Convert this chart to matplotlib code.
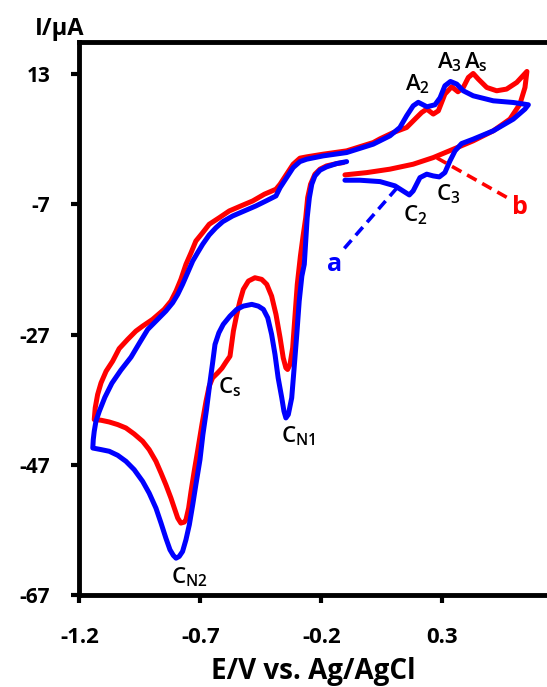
import matplotlib
matplotlib.use("Agg")
import matplotlib.pyplot as plt

plt.rcParams['font.family'] = ['Open Sans', 'DejaVu Sans']
plt.rcParams['mathtext.fontset'] = 'custom'
plt.rcParams['mathtext.rm'] = 'Open Sans:semibold'

# curve a (blue): potential (V) and current (uA)
e_a = [-0.103, -0.041, 0.042, 0.104, 0.163, 0.179, 0.207, 0.235, 0.262, 0.287,
       0.310, 0.331, 0.352, 0.379, 0.427, 0.510, 0.593, 0.641, 0.655, 0.593,
       0.510, 0.427, 0.386, 0.359, 0.333, 0.310, 0.290, 0.269, 0.236, 0.200,
       0.179, 0.152, 0.124, 0.083, 0.014, -0.096, -0.193, -0.261, -0.289, -0.317,
       -0.344, -0.371,
       -0.388, -0.429, -0.471, -0.519, -0.567, -0.608, -0.636, -0.664, -0.691, -0.712,
       -0.732, -0.753, -0.774, -0.794, -0.815, -0.843, -0.877, -0.918, -0.950,
       -0.987, -1.029, -1.066, -1.095, -1.118, -1.132, -1.139, -1.143, -1.145,
       -1.111, -1.077, -1.042, -1.008, -0.974, -0.939, -0.912, -0.884, -0.863, -0.843,
       -0.826, -0.812, -0.801, -0.788, -0.774, -0.760, -0.746, -0.732, -0.719, -0.702,
       -0.690, -0.675, -0.662, -0.650, -0.640, -0.624, -0.606, -0.578, -0.550, -0.523,
       -0.488, -0.461, -0.440, -0.422, -0.406, -0.392, -0.379, -0.364, -0.355, -0.347,
       -0.337, -0.323, -0.314, -0.302, -0.292, -0.281, -0.271, -0.265, -0.259, -0.250,
       -0.240, -0.227, -0.206, -0.179, -0.137, -0.096]
i_a = [-3.28, -3.28, -3.49, -4.15, -5.54, -4.92, -2.88, -2.35, -2.62, -2.77,
       -2.11, -0.31, 1.23, 2.35, 3.03, 4.31, 6.11, 7.65, 8.31, 8.66,
       8.92, 9.69, 10.46, 11.49, 11.89, 11.23, 9.38, 8.31, 8.0, 8.69,
       8.15, 6.62, 4.82, 3.54, 2.26, 0.97, 0.46, -0.05, -0.42, -1.34,
       -2.88, -4.42,
       -5.69, -6.46, -7.23, -8.0, -8.77, -9.65, -10.57, -11.69, -13.12, -14.42,
       -15.69, -17.49, -19.28, -20.82, -22.11, -23.38, -24.66, -26.2, -28.15,
       -30.46, -32.46, -34.46, -36.62, -38.77, -40.31, -41.85, -43.12, -44.42,
       -44.66, -44.92, -45.54, -46.46, -47.74, -49.54, -51.34, -53.65, -55.95, -58.26,
       -60.05, -60.92, -61.34, -61.08, -60.31, -58.51, -56.2, -53.12, -50.05, -46.2,
       -42.35, -38.51, -34.66, -31.38, -28.51, -26.72, -25.43, -24.15, -23.12, -22.62,
       -22.35, -22.62, -23.12, -24.42, -26.97, -30.05, -33.65, -36.72, -38.77, -39.8,
       -39.28, -36.72, -32.62, -26.97, -21.85, -18.0, -16.2, -12.62, -9.03, -5.95,
       -3.89, -2.62, -1.74, -1.23, -0.72, -0.42]

# curve b (red)
e_b = [-0.103, -0.013, 0.083, 0.179, 0.262, 0.345, 0.427, 0.510, 0.579, 0.620,
       0.641, 0.649, 0.607, 0.565, 0.524, 0.483, 0.448, 0.427, 0.407, 0.386,
       0.364, 0.338, 0.310, 0.283, 0.262, 0.235, 0.214, 0.193, 0.152, 0.097,
       0.042, 0.014, -0.096, -0.193, -0.261, -0.289, -0.317, -0.344, -0.371,
       -0.388, -0.436, -0.484, -0.533, -0.581, -0.622, -0.664, -0.691, -0.719, -0.739,
       -0.760, -0.781, -0.801, -0.822, -0.850, -0.898, -0.939, -0.967, -1.001, -1.036,
       -1.063, -1.090, -1.111, -1.125, -1.135, -1.139,
       -1.111, -1.077, -1.042, -1.008, -0.974, -0.939, -0.912, -0.884, -0.863, -0.843,
       -0.822, -0.808, -0.794, -0.781, -0.767, -0.760, -0.749, -0.739, -0.726, -0.712,
       -0.694, -0.677, -0.664, -0.650, -0.629, -0.611, -0.595, -0.578, -0.564, -0.550,
       -0.537, -0.523, -0.502, -0.475, -0.447, -0.426, -0.406, -0.388, -0.371, -0.358,
       -0.347, -0.340, -0.330, -0.319, -0.310, -0.300, -0.287, -0.276, -0.265, -0.257,
       -0.245, -0.227, -0.206, -0.179, -0.137, -0.110]
i_b = [-2.46, -2.11, -1.58, -0.82, 0.20, 1.49, 2.77, 4.31, 6.11, 8.42,
       10.97, 13.43, 11.74, 10.72, 10.46, 10.97, 12.26, 13.12, 12.51, 10.97,
       10.31, 11.08, 9.95, 7.38, 6.88, 7.65, 7.12, 6.35, 4.82, 4.05,
       3.08, 2.51, 1.23, 0.72, 0.31, 0.11, -0.82, -2.35, -3.89,
       -4.66, -5.43, -6.46, -7.23, -8.0, -9.03, -10.05, -11.34, -12.62, -14.42,
       -16.2, -18.51, -20.31, -21.85, -23.12, -24.66, -25.69, -26.46, -27.74, -29.15,
       -31.08, -32.62, -34.42, -36.2, -38.26, -40.05,
       -40.15, -40.42, -40.82, -41.34, -42.26, -43.38, -44.66, -46.46, -48.26, -50.05,
       -52.11, -53.65, -55.18, -55.95, -55.8, -55.43, -53.65, -51.08, -48.0, -44.92,
       -40.82, -37.23, -34.92, -33.65, -32.88, -32.15, -31.23, -30.31, -26.46, -23.89,
       -21.85, -20.05, -18.77, -18.26, -18.51, -19.28, -21.08, -23.89, -27.49, -30.57,
       -32.11, -32.35, -31.58, -29.03, -24.42, -19.28, -14.92, -11.85, -9.03, -5.95,
       -3.89, -2.35, -1.58, -1.08, -0.72, -0.57]

x_ticks = [-1.2, -0.7, -0.2, 0.3]
y_ticks = [-67, -47, -27, -7, 13]

# peak labels: text, E, I
peaks = [
    (r'A$_{\mathregular{2}}$', 0.199, 11.4),
    (r'A$_{\mathregular{3}}$', 0.331, 14.8),
    (r'A$_{\mathregular{s}}$', 0.438, 14.9),
    (r'C$_{\mathregular{2}}$', 0.186, -8.6),
    (r'C$_{\mathregular{3}}$', 0.323, -5.5),
    (r'C$_{\mathregular{s}}$', -0.578, -35.1),
    (r'C$_{\mathregular{N1}}$', -0.297, -42.6),
    (r'C$_{\mathregular{N2}}$', -0.748, -64.2),
]

fig = plt.figure(figsize=(5.47, 6.87), dpi=100)
ax = fig.add_axes([0.1453, 0.1339, 0.8547, 0.8054])

ax.plot(e_b, i_b, color='#ff0000', lw=3.6, solid_joinstyle='round', solid_capstyle='round')
ax.plot(e_a, i_a, color='#0000ff', lw=3.6, solid_joinstyle='round', solid_capstyle='round')

# pointer lines to the curve names
ax.plot([0.112, -0.115], [-4.46, -14.15], color='#0000ff', lw=2.6, dashes=(3, 1.8))
ax.plot([0.277, 0.570], [0.15, -6.0], color='#ff0000', lw=2.6, dashes=(3, 1.8))
ax.text(-0.144, -16.15, 'a', color='#0000ff', fontsize=18, fontweight='bold',
        ha='center', va='center')
ax.text(0.620, -7.54, 'b', color='#ff0000', fontsize=18, fontweight='bold',
        ha='center', va='center')

for txt, e, i in peaks:
    ax.text(e, i, txt, fontsize=16, fontweight='semibold', ha='center', va='center',
            color='black')

ax.set_xlim(-1.2, 0.732)
ax.set_ylim(-67, 18)
ax.set_xticks(x_ticks)
ax.set_yticks(y_ticks)
ax.set_xticklabels([str(t) for t in x_ticks], fontsize=16, fontweight='bold')
ax.set_yticklabels([str(t) for t in y_ticks], fontsize=15, fontweight='bold')
ax.tick_params(axis='both', direction='out', length=6, width=3)
ax.tick_params(axis='x', pad=17)
ax.tick_params(axis='y', pad=15)
for s in ['left', 'bottom', 'top']:
    ax.spines[s].set_linewidth(3.5)
ax.spines['right'].set_visible(False)

fig.text(313 / 547, 1 - 672 / 687, 'E/V vs. Ag/AgCl', fontsize=20, fontweight='bold',
         ha='center', va='center')
fig.text(60 / 547, 1 - 29 / 687, 'I/\u03bcA', fontsize=17, fontweight='bold',
         ha='center', va='center')

fig.savefig('out.png', dpi=100)
